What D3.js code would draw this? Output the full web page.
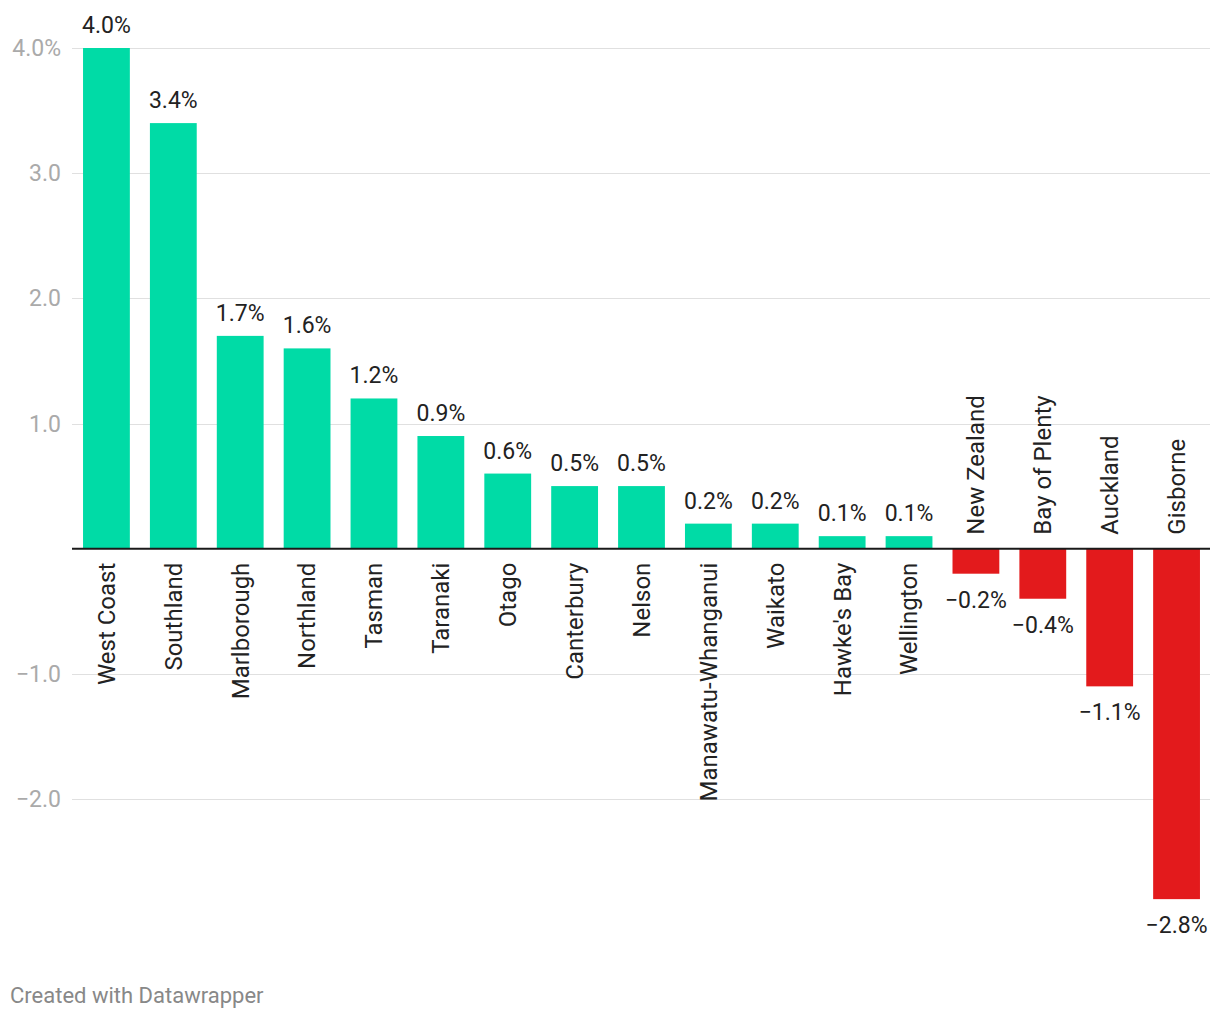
<!DOCTYPE html>
<html>
<head>
<meta charset="utf-8">
<script src="https://cdn.jsdelivr.net/npm/d3@7"></script>
<style>
  html, body { margin: 0; padding: 0; background: #fff; }
  svg { display: block; font-family: Roboto, "Noto Sans", sans-serif; }
</style>
</head>
<body>
<script>
const categories = ["West Coast", "Southland", "Marlborough", "Northland", "Tasman", "Taranaki", "Otago", "Canterbury", "Nelson", "Manawatu-Whanganui", "Waikato", "Hawke's Bay", "Wellington", "New Zealand", "Bay of Plenty", "Auckland", "Gisborne"];
const values = [4.0, 3.4, 1.7, 1.6, 1.2, 0.9, 0.6, 0.5, 0.5, 0.2, 0.2, 0.1, 0.1, -0.2, -0.4, -1.1, -2.8];
const tickValues = [-2, -1, 1, 2, 3, 4];
const tickLabels = ["−2.0", "−1.0", "1.0", "2.0", "3.0", "4.0%"];
const footer = "Created with Datawrapper";

const W = 1220, H = 1020;
const posColor = "#00dba6", negColor = "#e31a1c";

const svg = d3.select("body").append("svg").attr("width", W).attr("height", H);

const x = d3.scaleBand().domain(categories).range([73, 1210]).paddingInner(0.3).paddingOuter(0.15);
const y = d3.scaleLinear().domain([-2, 4]).range([799, 48]);

const fmt = v => (v < 0 ? "−" : "") + Math.abs(v).toFixed(1) + "%";

// gridlines
svg.append("g").selectAll("line").data(tickValues).join("line")
  .attr("x1", 72).attr("x2", 1210)
  .attr("y1", d => Math.round(y(d)) + 0.5).attr("y2", d => Math.round(y(d)) + 0.5)
  .attr("stroke", "#e0e0e0").attr("stroke-width", 1);

// tick labels
svg.append("g").selectAll("text").data(tickValues).join("text")
  .attr("x", 61).attr("y", d => y(d)).attr("dy", "0.35em")
  .attr("text-anchor", "end").attr("fill", "#aaaaaa").attr("font-size", 23)
  .text((d, i) => tickLabels[i]);

const data = categories.map((c, i) => ({ c, v: values[i] }));

// bars
svg.append("g").selectAll("rect").data(data).join("rect")
  .attr("x", d => x(d.c)).attr("width", x.bandwidth())
  .attr("y", d => y(Math.max(0, d.v)))
  .attr("height", d => Math.abs(y(d.v) - y(0)))
  .attr("fill", d => d.v >= 0 ? posColor : negColor);

// baseline
svg.append("line").attr("x1", 72).attr("x2", 1210)
  .attr("y1", y(0)).attr("y2", y(0))
  .attr("stroke", "#1a1a1a").attr("stroke-width", 2);

// value labels
svg.append("g").selectAll("text").data(data).join("text")
  .attr("x", d => x(d.c) + x.bandwidth() / 2)
  .attr("y", d => d.v >= 0 ? y(d.v) - 15 : y(d.v) + 34)
  .attr("text-anchor", "middle").attr("fill", "#222").attr("font-size", 23)
  .text(d => fmt(d.v));

// category labels (rotated)
svg.append("g").selectAll("text").data(data).join("text")
  .attr("transform", d => {
    const cx = x(d.c) + x.bandwidth() / 2;
    const cy = d.v >= 0 ? y(0) + 14 : y(0) - 14;
    return `translate(${cx},${cy}) rotate(-90)`;
  })
  .attr("dy", "0.35em")
  .attr("text-anchor", d => d.v >= 0 ? "end" : "start")
  .attr("fill", "#222").attr("font-size", 24)
  .text(d => d.c);

// footer
svg.append("text").attr("x", 10).attr("y", 1003)
  .attr("fill", "#888").attr("font-size", 22).text(footer);
</script>
</body>
</html>
